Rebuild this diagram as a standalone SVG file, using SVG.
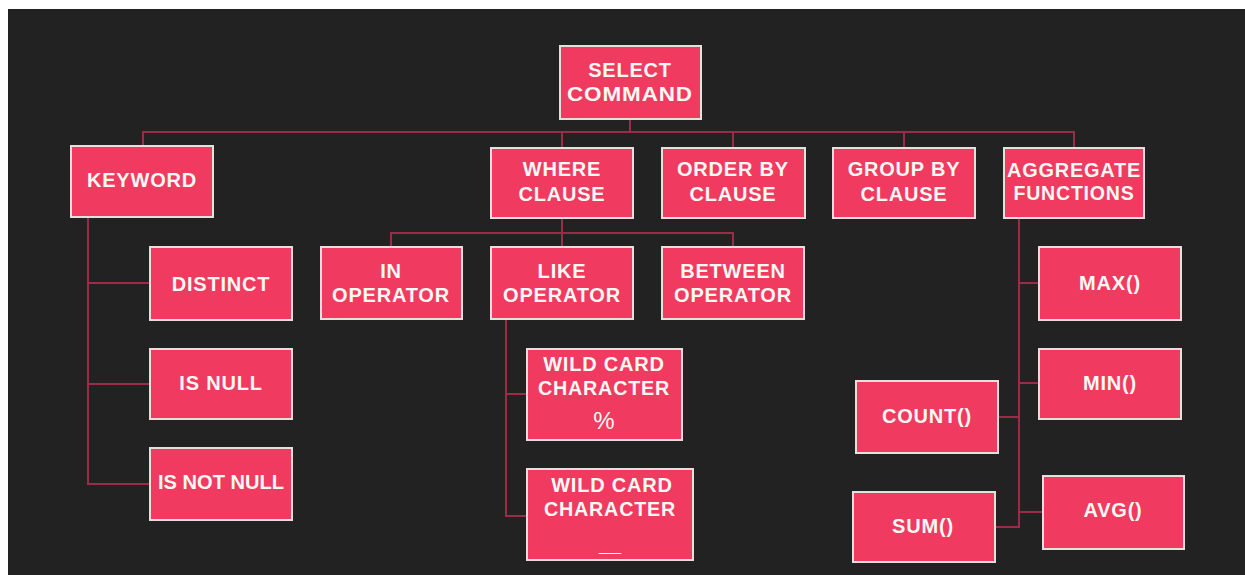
<svg xmlns="http://www.w3.org/2000/svg" width="1245" height="575" viewBox="0 0 1245 575">
<style>
.box{fill:#f03a5f;stroke:#e8dede;stroke-width:2}
.t{font-family:"Liberation Sans",Arial,sans-serif;font-weight:bold;font-size:20px;fill:#fff8f4;text-anchor:middle;letter-spacing:0.8px}
.ln{fill:none;stroke:#9a2c47;stroke-width:2}
</style>
<rect x="0" y="0" width="1245" height="575" fill="#ffffff"/>
<rect x="8" y="9" width="1237" height="566" fill="#222222"/>
<g id="connectors">
<path class="ln" d="M630 119V132M143 146V132H1074V148M562 132V148M733 132V148M904 132V148"/>
<path class="ln" d="M562 217V233M391 247V233H733V247M562 233V247"/>
<path class="ln" d="M88 217V484H150M88 283H150M88 384H150"/>
<path class="ln" d="M506 319V516H527M506 394H527"/>
<path class="ln" d="M1019 218V527H995M1019 283H1039M1019 383H1039M1019 417H998M1019 512H1043"/>
</g>
<g id="select"><rect class="box" x="560" y="46" width="141" height="73"/><text class="t" x="630" y="77">SELECT</text><text class="t" x="630" y="101" textLength="126" lengthAdjust="spacingAndGlyphs">COMMAND</text></g>
<g id="keyword"><rect class="box" x="71" y="146" width="142" height="71"/><text class="t" x="142" y="187">KEYWORD</text></g>
<g id="where"><rect class="box" x="491" y="148" width="142" height="70"/><text class="t" x="562" y="176">WHERE</text><text class="t" x="562" y="201">CLAUSE</text></g>
<g id="orderby"><rect class="box" x="662" y="148" width="143" height="70"/><text class="t" x="733" y="176">ORDER BY</text><text class="t" x="733" y="201">CLAUSE</text></g>
<g id="groupby"><rect class="box" x="833" y="148" width="142" height="70"/><text class="t" x="904" y="176">GROUP BY</text><text class="t" x="904" y="201">CLAUSE</text></g>
<g id="aggregate"><rect class="box" x="1004" y="148" width="140" height="70"/><text class="t" x="1074" y="177" textLength="134" lengthAdjust="spacingAndGlyphs">AGGREGATE</text><text class="t" x="1074" y="200" textLength="121" lengthAdjust="spacingAndGlyphs">FUNCTIONS</text></g>
<g id="in"><rect class="box" x="321" y="247" width="141" height="72"/><text class="t" x="391" y="278">IN</text><text class="t" x="391" y="302">OPERATOR</text></g>
<g id="like"><rect class="box" x="491" y="247" width="142" height="72"/><text class="t" x="562" y="278">LIKE</text><text class="t" x="562" y="302">OPERATOR</text></g>
<g id="between"><rect class="box" x="662" y="247" width="142" height="72"/><text class="t" x="733" y="278">BETWEEN</text><text class="t" x="733" y="302">OPERATOR</text></g>
<g id="distinct"><rect class="box" x="150" y="247" width="142" height="73"/><text class="t" x="221" y="291">DISTINCT</text></g>
<g id="isnull"><rect class="box" x="150" y="349" width="142" height="70"/><text class="t" x="221" y="390">IS NULL</text></g>
<g id="isnotnull"><rect class="box" x="150" y="448" width="142" height="72"/><text class="t" x="221" y="489" style="letter-spacing:0" textLength="126" lengthAdjust="spacingAndGlyphs">IS NOT NULL</text></g>
<g id="wildcard1"><rect class="box" x="527" y="349" width="155" height="91"/><text class="t" x="604" y="371">WILD CARD</text><text class="t" x="604" y="395" textLength="132" lengthAdjust="spacingAndGlyphs">CHARACTER</text><text class="t" x="604" y="429" style="font-size:24px;font-weight:normal;letter-spacing:0">%</text></g>
<g id="wildcard2"><rect class="box" x="527" y="469" width="166" height="91"/><text class="t" x="612" y="492">WILD CARD</text><text class="t" x="610" y="516" textLength="132" lengthAdjust="spacingAndGlyphs">CHARACTER</text><text class="t" x="610" y="551" style="letter-spacing:0">__</text></g>
<g id="max"><rect class="box" x="1039" y="247" width="142" height="73"/><text class="t" x="1110" y="290">MAX()</text></g>
<g id="min"><rect class="box" x="1039" y="349" width="142" height="70"/><text class="t" x="1110" y="390">MIN()</text></g>
<g id="count"><rect class="box" x="856" y="381" width="142" height="72"/><text class="t" x="927" y="423">COUNT()</text></g>
<g id="avg"><rect class="box" x="1043" y="476" width="141" height="73"/><text class="t" x="1113" y="517">AVG()</text></g>
<g id="sum"><rect class="box" x="853" y="492" width="142" height="70"/><text class="t" x="923" y="533">SUM()</text></g>
</svg>
